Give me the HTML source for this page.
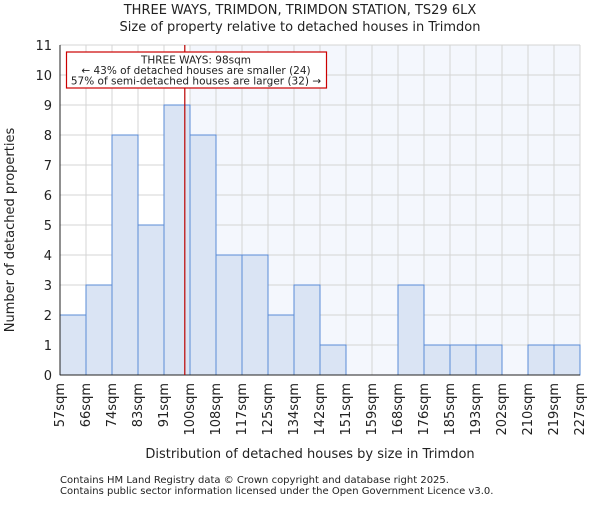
<!DOCTYPE html>
<html><head><meta charset="utf-8"><style>body{margin:0;background:#fff}svg text{font-family:"DejaVu Sans","Liberation Sans",sans-serif;fill:#222}</style></head>
<body>
<svg id="c" width="600" height="500"></svg>
<script>
const categories=["57sqm","66sqm","74sqm","83sqm","91sqm","100sqm","108sqm","117sqm","125sqm","134sqm","142sqm","151sqm","159sqm","168sqm","176sqm","185sqm","193sqm","202sqm","210sqm","219sqm","227sqm"];
const counts=[2,3,8,5,9,8,4,4,2,3,1,0,0,3,1,1,1,0,1,1];
const yTicks=[0,1,2,3,4,5,6,7,8,9,10,11];
const markerBin=4.8;
const L=60,R=580,T=45,B=375,yMax=11;
const n=counts.length,bw=(R-L)/n;
const xs=i=>L+i*bw, ys=v=>B-(v/yMax)*(B-T);
const svg=document.getElementById('c');const NS='http://www.w3.org/2000/svg';
function mk(t,a,txt,name){const e=document.createElementNS(NS,t);for(const k in a)e.setAttribute(k,a[k]);if(txt!==undefined)e.textContent=txt;


svg.appendChild(e);return e;}
const shadeX=xs(Math.ceil(markerBin));
mk('rect',{x:shadeX,y:T,width:R-shadeX,height:B-T,fill:'#f4f7fd'},undefined,'highlight-region');
yTicks.forEach(v=>{mk('line',{x1:L,x2:R,y1:ys(v),y2:ys(v),stroke:'#d4d4d4','stroke-width':1},undefined,'y-gridline');
mk('text',{x:L-8,y:ys(v)+5,'text-anchor':'end','font-size':13},String(v),'y-tick-label');});
for(let i=0;i<=n;i++)mk('line',{x1:xs(i),x2:xs(i),y1:T,y2:B,stroke:'#d4d4d4','stroke-width':1},undefined,'x-gridline');
counts.forEach((c,i)=>{if(c>0)mk('rect',{x:xs(i),y:ys(c),width:bw,height:B-ys(c),fill:'#dae4f4',stroke:'#5a8bd6','stroke-width':1},undefined,'bar-'+categories[i]);});
categories.forEach((c,i)=>{const x=xs(i)+4,y=B+8;mk('text',{x:x,y:y,'text-anchor':'end','font-size':13,transform:`rotate(-90 ${x} ${y})`},c,'x-tick-label');});
mk('line',{x1:L,x2:R,y1:B,y2:B,stroke:'#222'},undefined,'x-axis');
mk('line',{x1:L,x2:L,y1:T,y2:B,stroke:'#222'},undefined,'y-axis');
const mx=xs(markerBin);
mk('line',{x1:mx,x2:mx,y1:T,y2:B,stroke:'#b00','stroke-width':1.2},undefined,'marker-line');
mk('rect',{x:66.5,y:52,width:260,height:36,fill:'#fff',stroke:'#c00','stroke-width':1.2},undefined,'annotation-box');
mk('text',{x:196,y:63.5,'text-anchor':'middle','font-size':10.5},'THREE WAYS: 98sqm','annotation-title');
mk('text',{x:196,y:74,'text-anchor':'middle','font-size':10.5},'← 43% of detached houses are smaller (24)','annotation-line-1');
mk('text',{x:196,y:84.5,'text-anchor':'middle','font-size':10.5},'57% of semi-detached houses are larger (32) →','annotation-line-2');
mk('text',{x:300,y:14,'text-anchor':'middle','font-size':13},'THREE WAYS, TRIMDON, TRIMDON STATION, TS29 6LX','chart-title');
mk('text',{x:300,y:31,'text-anchor':'middle','font-size':13},'Size of property relative to detached houses in Trimdon','chart-subtitle');
mk('text',{x:310,y:458,'text-anchor':'middle','font-size':13},'Distribution of detached houses by size in Trimdon','x-axis-title');
mk('text',{x:14,y:230,'text-anchor':'middle','font-size':13,transform:'rotate(-90 14 230)'},'Number of detached properties','y-axis-title');
mk('text',{x:60,y:483,'font-size':10,fill:'#444'},'Contains HM Land Registry data © Crown copyright and database right 2025.','footer-line-1');
mk('text',{x:60,y:494,'font-size':10,fill:'#444'},'Contains public sector information licensed under the Open Government Licence v3.0.','footer-line-2');
</script>
</body></html>
